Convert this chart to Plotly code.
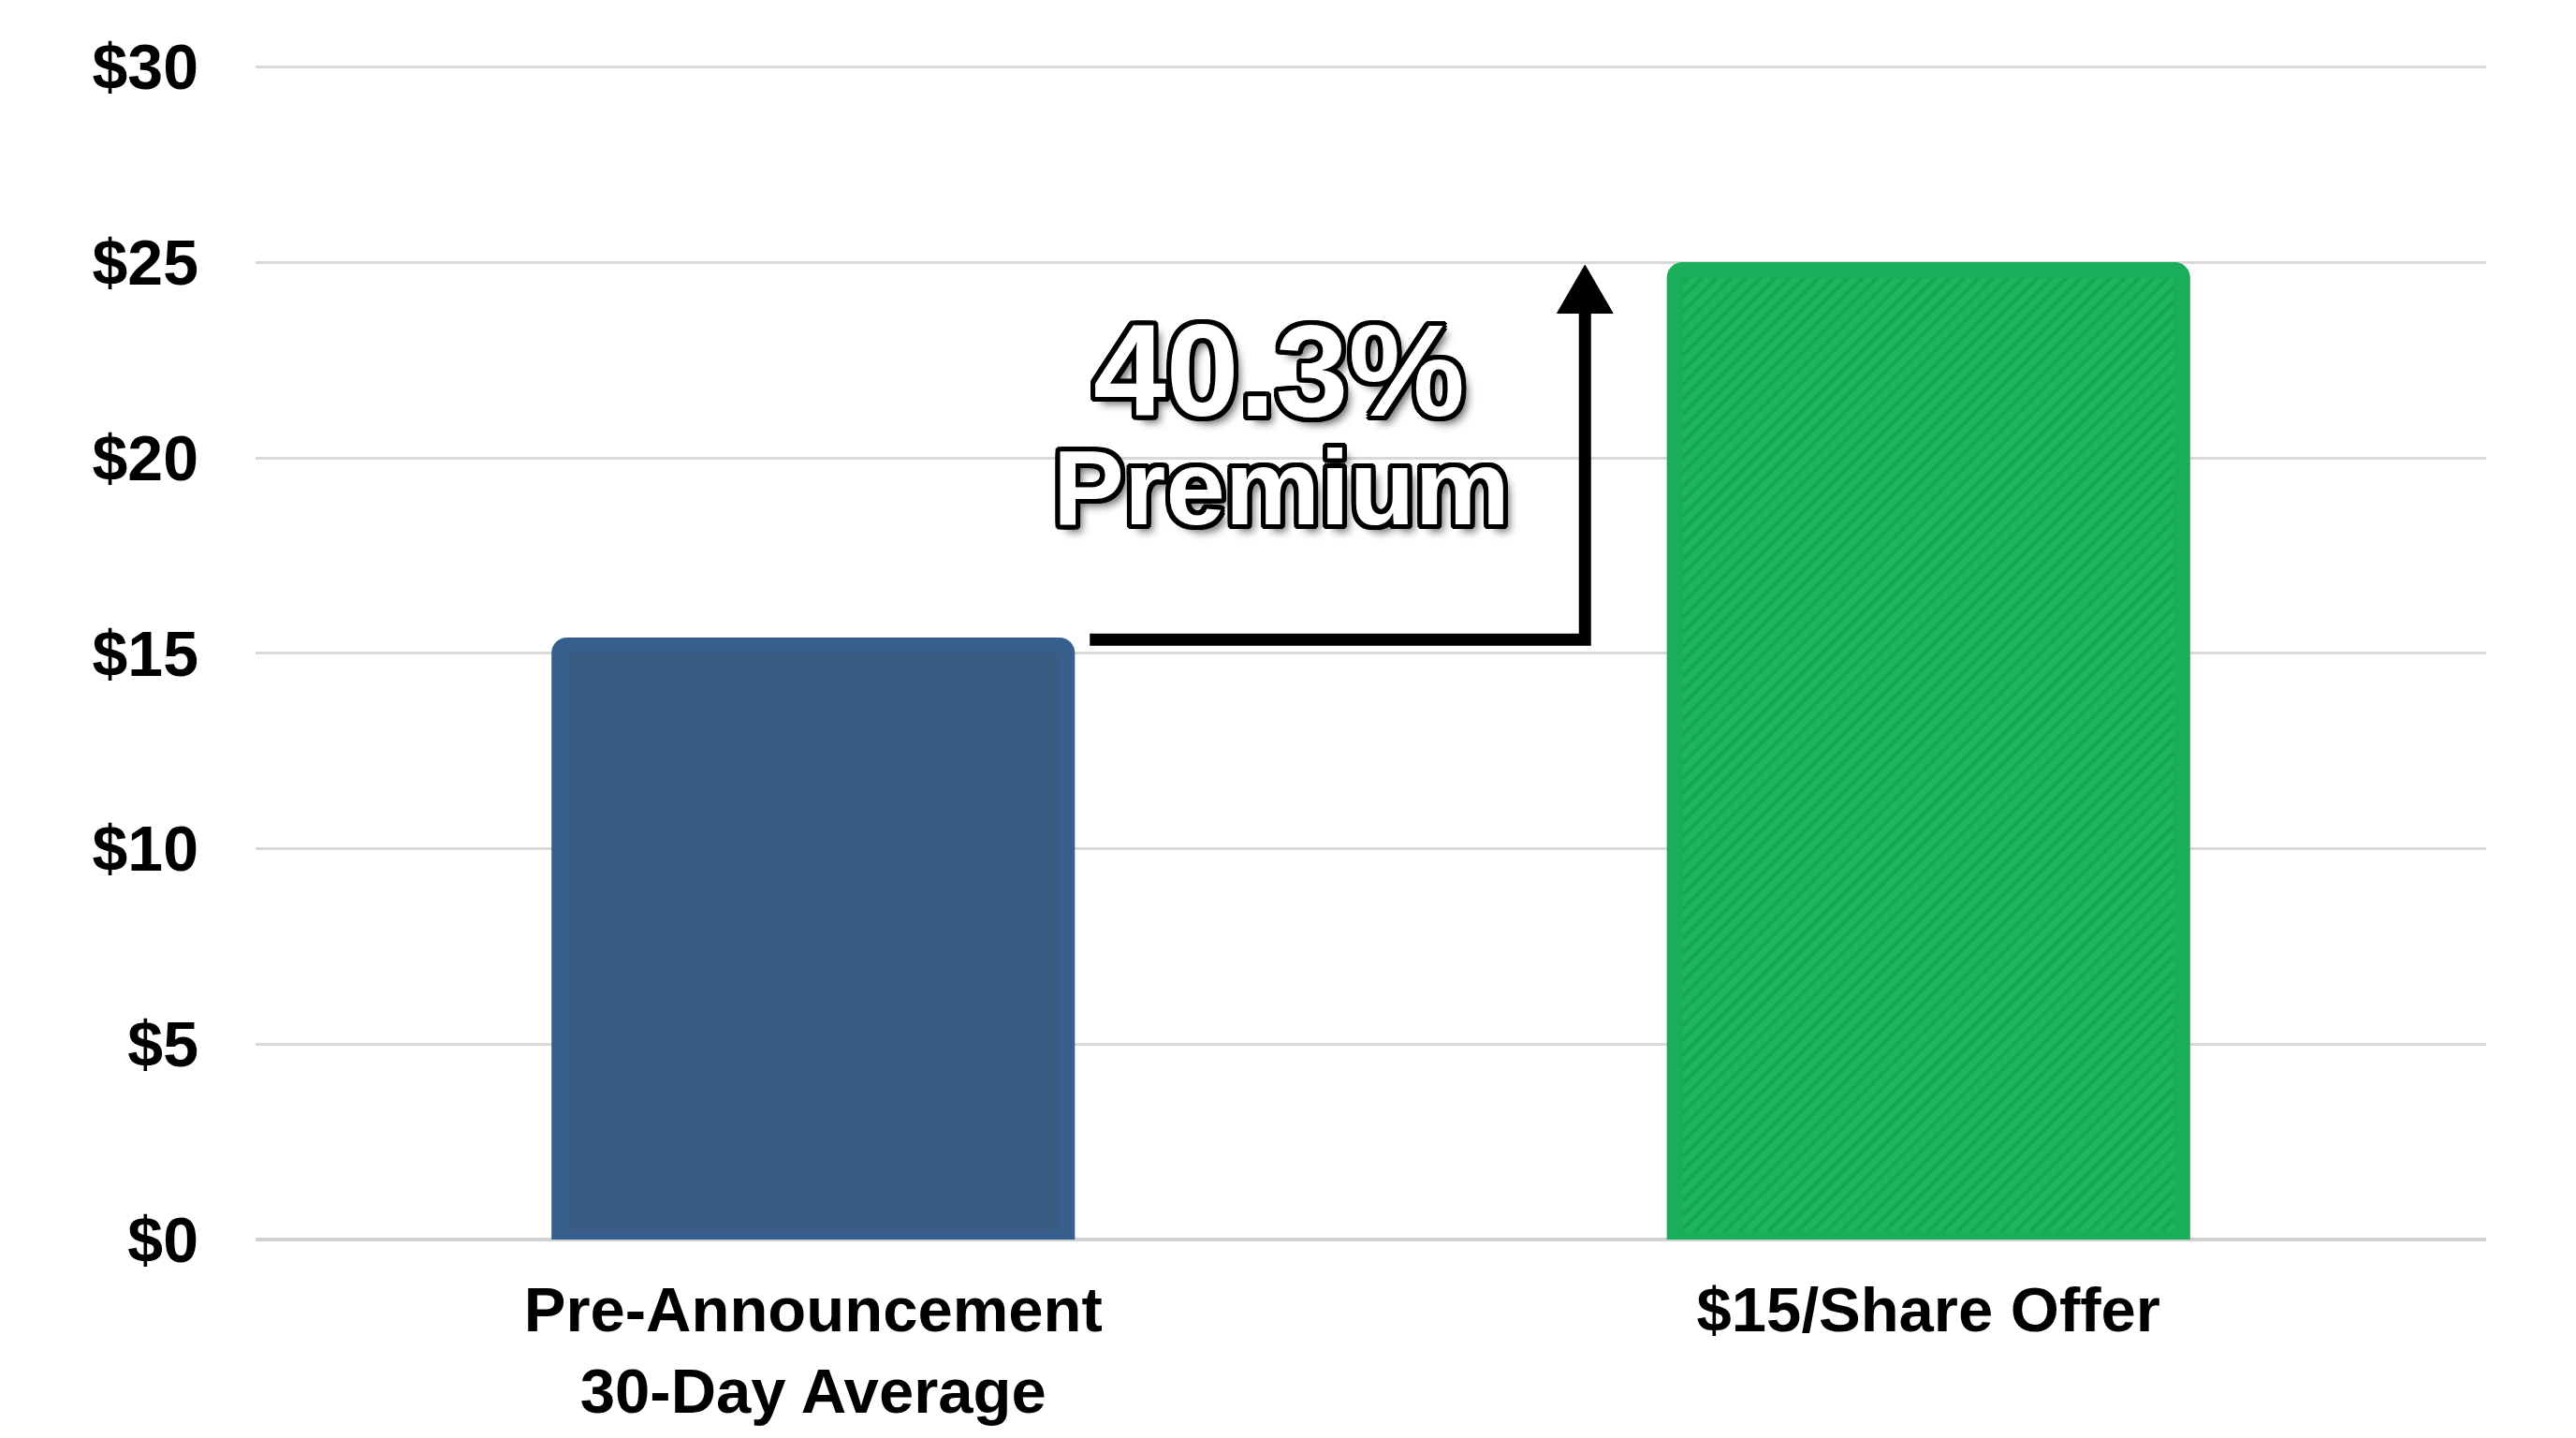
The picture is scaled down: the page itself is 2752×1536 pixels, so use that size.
import plotly.graph_objects as go

# Данные
categories = ['Pre-Announcement<br>30-Day Average', '$15/Share Offer']
values = [15.2, 24.8]
bar_colors = ['#3b5c82', '#1db65d']
line_colors = ['#375f8e', '#1aae5a']
stripe_shapes = ['', '/']
stripe_colors = ['#3b5c82', '#17a754']
y_ticks = [0, 5, 10, 15, 20, 25, 30]
y_tick_labels = ['$0', '$5', '$10', '$15', '$20', '$25', '$30']
premium_label = '40.3%'
premium_word = 'Premium'

x_pos = list(range(len(categories)))

fig = go.Figure()

# по трассе на столбец: у каждого свой скалярный цвет, чтобы штриховка брала bgcolor
for i in x_pos:
    fig.add_trace(go.Bar(
        x=[x_pos[i]],
        y=[values[i]],
        width=0.455,
        marker=dict(
            color=bar_colors[i],
            line=dict(color=line_colors[i], width=17),
            pattern=dict(shape=stripe_shapes[i], fillmode='replace', bgcolor=bar_colors[i],
                         fgcolor=stripe_colors[i], size=11, solidity=0.4, fgopacity=1),
        ),
        hoverinfo='skip',
    ))

# стрелка "премии": от верха первого столбца вправо и вверх ко второму
arrow_y0 = 15.35
arrow_x0 = 0.248
arrow_x1 = 0.692
arrow_top = 23.7
arrow_tip = 24.93

fig.add_shape(type='path',
              path=f'M {arrow_x0},{arrow_y0} L {arrow_x1},{arrow_y0} L {arrow_x1},{arrow_top}',
              xref='x', yref='y', line=dict(color='black', width=13))
fig.add_shape(type='path',
              path=f'M {arrow_x1 - 0.025},{arrow_top} L {arrow_x1 + 0.025},{arrow_top} '
                   f'L {arrow_x1},{arrow_tip} Z',
              xref='x', yref='y', fillcolor='black', line=dict(color='black', width=1))

outline = ', '.join(f'{dx}px {dy}px 0 #000' for dx, dy in
                    [(-4, -4), (4, -4), (-4, 4), (4, 4), (0, -5), (0, 5), (-5, 0), (5, 0),
                     (-3, -5), (3, -5), (-3, 5), (3, 5), (-5, -3), (5, -3), (-5, 3), (5, 3)])
shadow = outline + ', 7px 8px 8px rgba(0,0,0,0.55)'

fig.add_annotation(x=0.418, y=22.25, xref='x', yref='y', text=premium_label,
                   showarrow=False,
                   font=dict(family='Arial, Liberation Sans', size=140, weight=700,
                             color='white', shadow=shadow))
fig.add_annotation(x=0.42, y=19.25, xref='x', yref='y', text=premium_word,
                   showarrow=False,
                   font=dict(family='Arial, Liberation Sans', size=114, weight=700,
                             color='white', shadow=shadow))

fig.update_layout(
    width=2752,
    height=1536,
    margin=dict(l=265, r=104, t=61, b=220),
    plot_bgcolor='white',
    paper_bgcolor='white',
    showlegend=False,
    barmode='overlay',
    barcornerradius=8,
    font=dict(family='Arial, Liberation Sans', color='black'),
)

fig.update_xaxes(
    range=[-0.5, 1.5],
    tickvals=x_pos,
    ticktext=categories,
    showgrid=False,
    zeroline=False,
    showline=False,
    ticks='',
    tickfont=dict(size=67, weight=700),
    ticklabelstandoff=30,
)

fig.update_yaxes(
    range=[0, 30.06],
    tickvals=y_ticks,
    ticktext=y_tick_labels,
    showgrid=True,
    gridcolor='#d9d9d9',
    gridwidth=3,
    zeroline=True,
    zerolinecolor='#d0d0d0',
    zerolinewidth=4,
    showline=False,
    ticks='',
    tickfont=dict(size=68, weight=700),
    ticklabelstandoff=60,
)

fig.write_html('out.html')
